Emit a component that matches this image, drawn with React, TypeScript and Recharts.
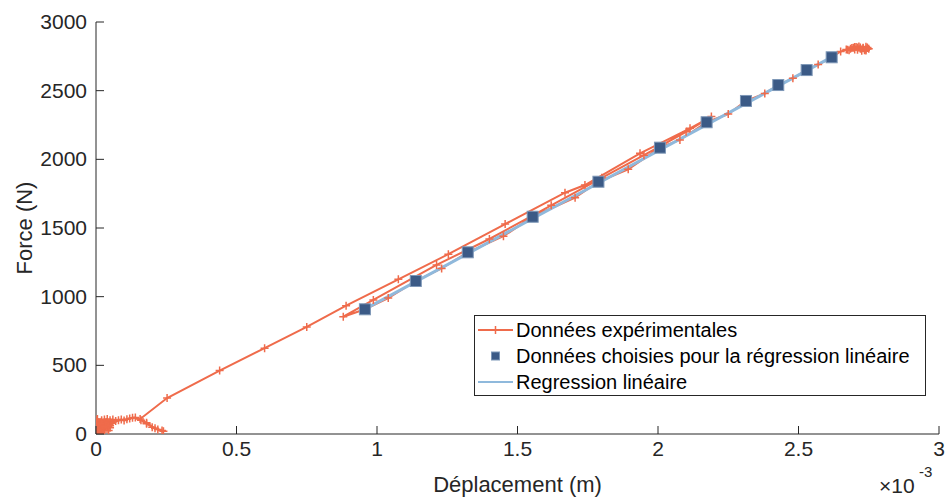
import React from 'react';
import { ComposedChart, Line, Scatter, XAxis, YAxis } from 'recharts';

// displacement in 1e-3 m (axis shows x10^-3), force in N
const expDisp = [
  0, 0.01, 0.005, 0.02, 0.01, 0.03, 0.015, 0.04, 0.005, 0.025, 0.05, 0.02, 0.06, 0.035, 0.01,
  0.045, 0.002, 0.03, 0.012, 0.05, 0.008, 0.04, 0.018, 0.055, 0.003, 0.028, 0.045, 0.015,
  0.07, 0.05, 0.08, 0.09, 0.1, 0.11, 0.12, 0.13, 0.14, 0.16, 0.18, 0.2, 0.22, 0.24,
  0.235, 0.21, 0.18, 0.157,
  0.253, 0.44, 0.6, 0.75, 0.89, 1.076, 1.254, 1.456, 1.669, 1.74, 1.936, 2.114, 2.19,
  2.1, 1.95, 1.8, 1.62, 1.4, 1.212, 0.987, 0.88,
  0.957, 1.04, 1.138, 1.23, 1.323, 1.45, 1.554, 1.705, 1.788, 1.894, 2.007, 2.078, 2.173,
  2.25, 2.313, 2.38, 2.428, 2.48, 2.529, 2.57, 2.618, 2.65, 2.67,
  2.68, 2.69, 2.7, 2.71, 2.72, 2.73, 2.74, 2.745, 2.735, 2.72, 2.71, 2.73, 2.75,
  2.74, 2.7, 2.685, 2.715, 2.745, 2.725, 2.695, 2.675, 2.705, 2.74,
];
const expForce = [
  0, 80, 110, 100, 20, 105, 60, 110, 40, 30, 100, 90, 105, 70, 10,
  50, 85, 15, 65, 45, 35, 85, 5, 80, 100, 55, 25, 75,
  95, 60, 100, 105, 98, 108, 112, 118, 120, 100, 75, 50, 32, 20,
  25, 42, 82, 109,
  262, 462, 625, 780, 934, 1126, 1309, 1529, 1757, 1813, 2044, 2226, 2311,
  2200, 2030, 1865, 1665, 1420, 1231, 976, 854,
  908, 990, 1114, 1206, 1323, 1440, 1582, 1721, 1837, 1927, 2085, 2141, 2270,
  2330, 2425, 2480, 2541, 2590, 2650, 2690, 2743, 2785, 2800,
  2795, 2810, 2800, 2815, 2805, 2812, 2800, 2810, 2795, 2815, 2798, 2808, 2805,
  2820, 2818, 2806, 2822, 2815, 2790, 2812, 2798, 2818, 2793,
];

const selDisp = [0.957, 1.138, 1.323, 1.554, 1.788, 2.007, 2.173, 2.313, 2.428, 2.529, 2.618];
const selForce = [908, 1114, 1323, 1582, 1837, 2085, 2270, 2425, 2541, 2650, 2743];

const regDisp = [0.957, 2.618];
const regForce = [909, 2744];

const xTicks = [0, 0.5, 1, 1.5, 2, 2.5, 3];
const yTicks = [0, 500, 1000, 1500, 2000, 2500, 3000];

const RED = '#EF6B4B';
const BLUE = '#3B5A86';
const LIGHT = '#8FB9DC';
const AXIS = '#262626';
const FONT = '"Liberation Sans", Arial, sans-serif';

const expData = expDisp.map((x, i) => ({ x, y: expForce[i] }));
const selData = selDisp.map((x, i) => ({ x, y: selForce[i] }));
const regData = regDisp.map((x, i) => ({ x, y: regForce[i] }));

const PlusDot = (props: any) => {
  const { cx, cy, index } = props;
  if (cx == null || cy == null) return null;
  return (
    <path
      key={index}
      d={`M${cx - 4},${cy}h8M${cx},${cy - 4}v8`}
      stroke={RED}
      strokeWidth={1.5}
      fill="none"
    />
  );
};

const SquareDot = (props: any) => {
  const { cx, cy } = props;
  return <rect x={cx - 5.5} y={cy - 5.5} width={11} height={11} fill={BLUE} stroke="#7D97B7" strokeWidth={1} />;
};

const XTick = (props: any) => {
  const { x, y, payload } = props;
  return (
    <g>
      <line x1={x} y1={y} x2={x} y2={y - 8} stroke={AXIS} strokeWidth={1} />
      <text x={x} y={y + 22} textAnchor="middle" fill={AXIS} fontSize={21} fontFamily={FONT}>
        {payload.value}
      </text>
    </g>
  );
};

const YTick = (props: any) => {
  const { x, y, payload } = props;
  return (
    <g>
      <line x1={x} y1={y} x2={x + 8} y2={y} stroke={AXIS} strokeWidth={1} />
      <text x={x - 9} y={y + 7} textAnchor="end" fill={AXIS} fontSize={21} fontFamily={FONT}>
        {payload.value}
      </text>
    </g>
  );
};

const legendItems = [
  { label: 'Données expérimentales', kind: 'exp' },
  { label: 'Données choisies pour la régression linéaire', kind: 'sel' },
  { label: 'Regression linéaire', kind: 'reg' },
];

const LegendGlyph = ({ kind }: { kind: string }) => (
  <svg width={38} height={24} style={{ display: 'block' }}>
    {kind === 'exp' && (
      <>
        <line x1={1} y1={12} x2={36} y2={12} stroke={RED} strokeWidth={2} />
        <path d="M14.5,12h8M18.5,8v8" stroke={RED} strokeWidth={1.5} />
      </>
    )}
    {kind === 'sel' && <rect x={14.5} y={8} width={8} height={8} fill={BLUE} stroke="#7D97B7" />}
    {kind === 'reg' && <line x1={1} y1={12} x2={36} y2={12} stroke={LIGHT} strokeWidth={2} />}
  </svg>
);

export default function App() {
  return (
    <div style={{ position: 'absolute', left: 0, top: 0, width: 947, height: 500, background: '#fff' }}>
      <ComposedChart
        width={947}
        height={500}
        margin={{ top: 22, right: 8, bottom: 0, left: 26 }}
      >
        <XAxis
          type="number"
          dataKey="x"
          domain={[0, 3]}
          ticks={xTicks}
          interval={0}
          height={66}
          stroke={AXIS}
          tickLine={false}
          tickSize={0}
          tickMargin={0}
          tick={<XTick />}
          allowDataOverflow
          label={{
            value: 'Déplacement (m)',
            position: 'insideBottom',
            offset: 8,
            fill: AXIS,
            fontSize: 22,
            fontFamily: FONT,
          }}
        />
        <YAxis
          type="number"
          dataKey="y"
          domain={[0, 3000]}
          ticks={yTicks}
          interval={0}
          width={70}
          stroke={AXIS}
          tickLine={false}
          tickSize={0}
          tickMargin={0}
          tick={<YTick />}
          allowDataOverflow
          label={{
            value: 'Force (N)',
            angle: -90,
            position: 'insideLeft',
            offset: -2,
            fill: AXIS,
            fontSize: 22,
            fontFamily: FONT,
            style: { textAnchor: 'middle' },
          }}
        />
        <Line
          data={expData}
          dataKey="y"
          stroke={RED}
          strokeWidth={2}
          dot={<PlusDot />}
          activeDot={false}
          isAnimationActive={false}
          name="Données expérimentales"
        />
        <Scatter
          data={selData}
          dataKey="y"
          shape={<SquareDot />}
          isAnimationActive={false}
          name="Données choisies pour la régression linéaire"
        />
        <Line
          data={regData}
          dataKey="y"
          stroke={LIGHT}
          strokeWidth={3}
          dot={false}
          activeDot={false}
          isAnimationActive={false}
          name="Regression linéaire"
        />
      </ComposedChart>

      {/* x10^-3 multiplier */}
      <div style={{ position: 'absolute', left: 879, top: 475, fontFamily: FONT, fontSize: 21, color: AXIS, lineHeight: '22px', whiteSpace: 'nowrap' }}>
        ×10
      </div>
      <div style={{ position: 'absolute', left: 919, top: 464, fontFamily: FONT, fontSize: 15, color: AXIS, lineHeight: '16px', whiteSpace: 'nowrap' }}>
        -3
      </div>

      {/* legend */}
      <div
        style={{
          position: 'absolute',
          left: 474,
          top: 315,
          width: 450,
          height: 78,
          border: `1px solid ${AXIS}`,
          background: '#fff',
          fontFamily: FONT,
          fontSize: 20,
          color: '#000',
          paddingTop: 1,
          boxSizing: 'content-box',
        }}
      >
        {legendItems.map((it) => (
          <div key={it.kind} style={{ display: 'flex', alignItems: 'center', height: 26, marginLeft: 2 }}>
            <LegendGlyph kind={it.kind} />
            <span style={{ marginLeft: 1, whiteSpace: 'nowrap' }}>{it.label}</span>
          </div>
        ))}
      </div>
    </div>
  );
}
